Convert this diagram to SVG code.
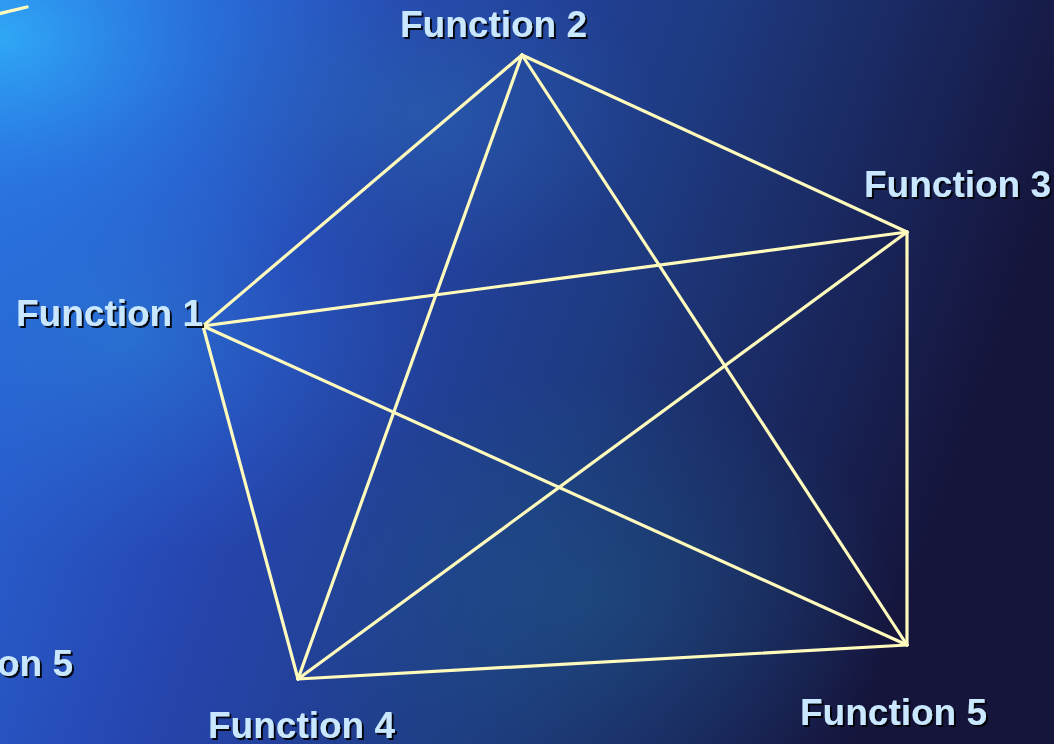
<svg xmlns="http://www.w3.org/2000/svg" width="1054" height="744" viewBox="0 0 1054 744">
<defs>
<linearGradient id="bg" x1="0" y1="0" x2="1" y2="0.25">
<stop offset="0" stop-color="#2a6ee0"/>
<stop offset="0.35" stop-color="#2646b0"/>
<stop offset="0.65" stop-color="#1e3a80"/>
<stop offset="0.85" stop-color="#19255a"/>
<stop offset="1" stop-color="#15153c"/>
</linearGradient>
<radialGradient id="glow1" cx="0" cy="0.05" r="0.4">
<stop offset="0" stop-color="#2fa8f5" stop-opacity="1"/>
<stop offset="0.5" stop-color="#2a80e8" stop-opacity="0.55"/>
<stop offset="1" stop-color="#2a6ee0" stop-opacity="0"/>
</radialGradient>
<radialGradient id="glow2" cx="0.12" cy="0.45" r="0.3">
<stop offset="0" stop-color="#2a8ae0" stop-opacity="0.5"/>
<stop offset="1" stop-color="#2a6ee0" stop-opacity="0"/>
</radialGradient>
<radialGradient id="glow3" cx="0.55" cy="0.8" r="0.3">
<stop offset="0" stop-color="#1f5a8a" stop-opacity="0.5"/>
<stop offset="1" stop-color="#1f5a8a" stop-opacity="0"/>
</radialGradient>
<radialGradient id="glow4" cx="0.4" cy="0.15" r="0.22">
<stop offset="0" stop-color="#2a6ab0" stop-opacity="0.5"/>
<stop offset="1" stop-color="#2a6ab0" stop-opacity="0"/>
</radialGradient>
<filter id="sh" x="-5%" y="-20%" width="115%" height="150%">
<feDropShadow dx="2" dy="2" stdDeviation="0.6" flood-color="#000" flood-opacity="0.9"/>
</filter>
</defs>
<style>
.lbl{font-family:"Liberation Sans",Arial,sans-serif;font-weight:bold;font-size:37px;fill:#c9e8ff;filter:url(#sh)}
.edge{stroke:#fffbbd;stroke-width:3.2;fill:none;stroke-linecap:round}
</style>
<rect width="1054" height="744" fill="url(#bg)"/>
<rect width="1054" height="744" fill="url(#glow1)"/>
<rect width="1054" height="744" fill="url(#glow2)"/>
<rect width="1054" height="744" fill="url(#glow3)"/>
<rect width="1054" height="744" fill="url(#glow4)"/>
<line class="edge" x1="-2" y1="14" x2="27" y2="7"/>
<g id="connectors">
<line class="edge" x1="522" y1="55" x2="907" y2="232"/>
<line class="edge" x1="522" y1="55" x2="203" y2="326"/>
<line class="edge" x1="522" y1="55" x2="298" y2="679"/>
<line class="edge" x1="522" y1="55" x2="907" y2="645"/>
<line class="edge" x1="907" y1="232" x2="203" y2="326"/>
<line class="edge" x1="907" y1="232" x2="298" y2="679"/>
<line class="edge" x1="907" y1="232" x2="907" y2="645"/>
<line class="edge" x1="203" y1="326" x2="298" y2="679"/>
<line class="edge" x1="203" y1="326" x2="907" y2="645"/>
<line class="edge" x1="298" y1="679" x2="907" y2="645"/>
</g>
<g id="n1"><text class="lbl" x="16" y="326">Function 1</text></g>
<g id="n2"><text class="lbl" x="400" y="37">Function 2</text></g>
<g id="n3"><text class="lbl" x="864" y="197">Function 3</text></g>
<g id="n4"><text class="lbl" x="208" y="738">Function 4</text></g>
<g id="n5"><text class="lbl" x="800" y="725">Function 5</text></g>
<g id="n5b"><text class="lbl" x="73" y="676" text-anchor="end">on 5</text></g>
</svg>
